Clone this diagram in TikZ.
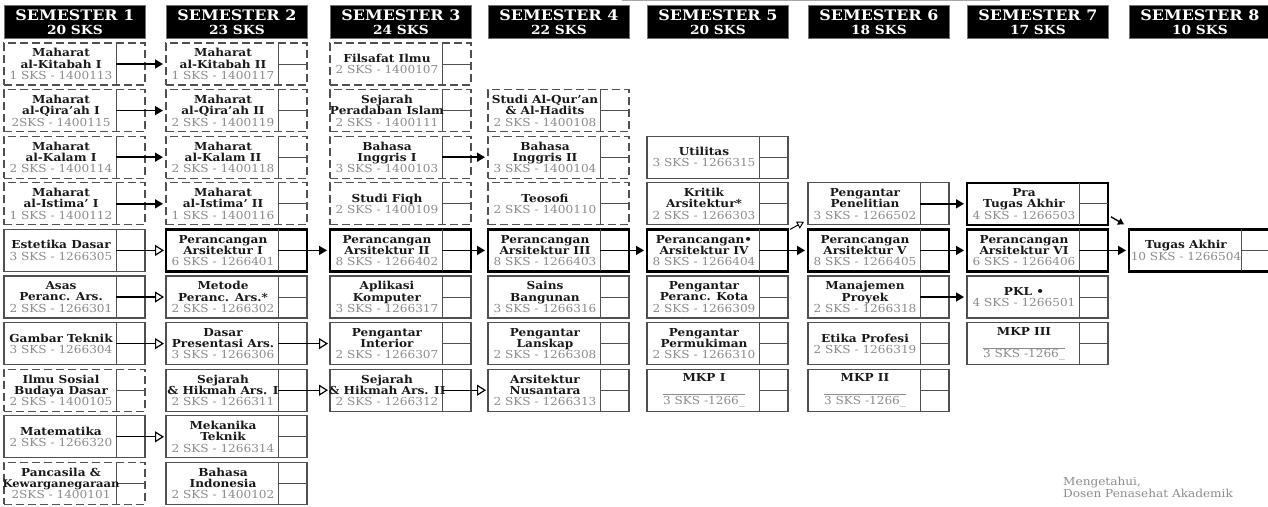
\documentclass[tikz,border=0pt]{standalone}
\usepackage{fontspec}
\setmainfont{DejaVu Serif}[FakeStretch=1.1]
\usetikzlibrary{arrows.meta,calc}
\definecolor{codegray}{HTML}{8C8C8C}
\definecolor{boxgray}{HTML}{505050}
\tikzset{
 crs/.style={rectangle,inner sep=0pt,outer sep=0pt,minimum width=141pt,minimum height=42pt,anchor=north west},
 crsn/.style={crs,draw=boxgray,line width=1.3pt},
 crst/.style={crs,draw=black,line width=2.4pt},
 crsd/.style={crs,draw=boxgray,line width=1.1pt,dash pattern=on 8pt off 4pt},
 ctext/.style={align=center,font=\fontsize{11}{11.3}\selectfont\bfseries,inner sep=0pt,text=black!90},
 divl/.style={draw=boxgray,line width=1pt},
 parr/.style={line width=1.5pt,-{Triangle[length=8pt,width=9pt]},shorten >=3pt},
 harr/.style={line width=1.2pt,-{Triangle[open,length=9pt,width=11pt,fill=white]},shorten >=2pt},
 hdr/.style={fill=black,draw=black!55,line width=0.8pt,minimum width=141pt,minimum height=33pt,anchor=north west,text=white,align=center,font=\fontsize{14.5}{14}\selectfont\bfseries,inner sep=0pt},
}
\newcommand\crs[6]{%
 \node[crs#4] (#1) at (#2,{43+46.6*#3}) {};
 \draw[divl] ($(#1.north west)+(112,0)$) -- ($(#1.south west)+(112,0)$);
 \draw[divl] ($(#1.west)+(112,0)$) -- (#1.east);
 \node[ctext] (#1t) at ($(#1.west)+(57,0)$) {#5\\{\mdseries\color{codegray}#6}};
}
\newcommand\lnk[3]{\draw[#1] ($(#2.west)+(112,0)$) -- (#3.west);}
\newcommand\mkpcode{$\overline{\hbox{3 SKS -1266\_}}$}
\begin{document}
\begin{tikzpicture}[x=1pt,y=-1pt]
\useasboundingbox[fill=white] (0,0) rectangle (1268,506);
\draw[black!35,line width=1pt] (622,0.6) -- (1000,0.6);
% headers
\node[hdr] (h1) at (4,5) {SEMESTER 1\\{\fontsize{12.5}{12.5}\selectfont 20 SKS}};
\node[hdr] (h2) at (166,5) {SEMESTER 2\\{\fontsize{12.5}{12.5}\selectfont 23 SKS}};
\node[hdr] (h3) at (330,5) {SEMESTER 3\\{\fontsize{12.5}{12.5}\selectfont 24 SKS}};
\node[hdr] (h4) at (488,5) {SEMESTER 4\\{\fontsize{12.5}{12.5}\selectfont 22 SKS}};
\node[hdr] (h5) at (647,5) {SEMESTER 5\\{\fontsize{12.5}{12.5}\selectfont 20 SKS}};
\node[hdr] (h6) at (808,5) {SEMESTER 6\\{\fontsize{12.5}{12.5}\selectfont 18 SKS}};
\node[hdr] (h7) at (967,5) {SEMESTER 7\\{\fontsize{12.5}{12.5}\selectfont 17 SKS}};
\node[hdr] (h8) at (1129,5) {SEMESTER 8\\{\fontsize{12.5}{12.5}\selectfont 10 SKS}};
% semester 1
\crs{a0}{4}{0}{d}{Maharat\\al-Kitabah I}{1 SKS - 1400113}
\crs{a1}{4}{1}{d}{Maharat\\al-Qira'ah I}{2SKS - 1400115}
\crs{a2}{4}{2}{d}{Maharat\\al-Kalam I}{2 SKS - 1400114}
\crs{a3}{4}{3}{d}{Maharat\\al-Istima' I}{1 SKS - 1400112}
\crs{a4}{4}{4}{n}{Estetika Dasar}{3 SKS - 1266305}
\crs{a5}{4}{5}{n}{Asas\\Peranc. Ars.}{2 SKS - 1266301}
\crs{a6}{4}{6}{n}{Gambar Teknik}{3 SKS - 1266304}
\crs{a7}{4}{7}{d}{Ilmu Sosial\\Budaya Dasar}{2 SKS - 1400105}
\crs{a8}{4}{8}{n}{Matematika}{2 SKS - 1266320}
\crs{a9}{4}{9}{d}{Pancasila \&\\{\fontsize{10.5}{11.3}\selectfont Kewarganegaraan}}{2SKS - 1400101}
% semester 2
\crs{b0}{166}{0}{d}{Maharat\\al-Kitabah II}{1 SKS - 1400117}
\crs{b1}{166}{1}{d}{Maharat\\al-Qira'ah II}{2 SKS - 1400119}
\crs{b2}{166}{2}{d}{Maharat\\al-Kalam II}{2 SKS - 1400118}
\crs{b3}{166}{3}{d}{Maharat\\al-Istima' II}{1 SKS - 1400116}
\crs{b4}{166}{4}{t}{Perancangan\\Arsitektur I}{6 SKS - 1266401}
\crs{b5}{166}{5}{n}{Metode\\Peranc. Ars.*}{2 SKS - 1266302}
\crs{b6}{166}{6}{n}{Dasar\\Presentasi Ars.}{3 SKS - 1266306}
\crs{b7}{166}{7}{n}{Sejarah\\\& Hikmah Ars. I}{2 SKS - 1266311}
\crs{b8}{166}{8}{n}{Mekanika\\Teknik}{2 SKS - 1266314}
\crs{b9}{166}{9}{n}{Bahasa\\Indonesia}{2 SKS - 1400102}
% semester 3
\crs{c0}{330}{0}{d}{Filsafat Ilmu}{2 SKS - 1400107}
\crs{c1}{330}{1}{d}{Sejarah\\Peradaban Islam}{2 SKS - 1400111}
\crs{c2}{330}{2}{d}{Bahasa\\Inggris I}{3 SKS - 1400103}
\crs{c3}{330}{3}{d}{Studi Fiqh}{2 SKS - 1400109}
\crs{c4}{330}{4}{t}{Perancangan\\Arsitektur II}{8 SKS - 1266402}
\crs{c5}{330}{5}{n}{Aplikasi\\Komputer}{3 SKS - 1266317}
\crs{c6}{330}{6}{n}{Pengantar\\Interior}{2 SKS - 1266307}
\crs{c7}{330}{7}{n}{Sejarah\\\& Hikmah Ars. II}{2 SKS - 1266312}
% semester 4
\crs{d1}{488}{1}{d}{Studi Al-Qur'an\\\& Al-Hadits}{2 SKS - 1400108}
\crs{d2}{488}{2}{d}{Bahasa\\Inggris II}{3 SKS - 1400104}
\crs{d3}{488}{3}{d}{Teosofi}{2 SKS - 1400110}
\crs{d4}{488}{4}{t}{Perancangan\\Arsitektur III}{8 SKS - 1266403}
\crs{d5}{488}{5}{n}{Sains\\Bangunan}{3 SKS - 1266316}
\crs{d6}{488}{6}{n}{Pengantar\\Lanskap}{2 SKS - 1266308}
\crs{d7}{488}{7}{n}{Arsitektur\\Nusantara}{2 SKS - 1266313}
% semester 5
\crs{e2}{647}{2}{n}{Utilitas}{3 SKS - 1266315}
\crs{e3}{647}{3}{n}{Kritik\\Arsitektur*}{2 SKS - 1266303}
\crs{e4}{647}{4}{t}{Perancangan•\\Arsitektur IV}{8 SKS - 1266404}
\crs{e5}{647}{5}{n}{Pengantar\\Peranc. Kota}{2 SKS - 1266309}
\crs{e6}{647}{6}{n}{Pengantar\\Permukiman}{2 SKS - 1266310}
\crs{e7}{647}{7}{n}{MKP I\\\mbox{}}{\mkpcode}
% semester 6
\crs{f3}{808}{3}{n}{Pengantar\\Penelitian}{3 SKS - 1266502}
\crs{f4}{808}{4}{t}{Perancangan\\Arsitektur V}{8 SKS - 1266405}
\crs{f5}{808}{5}{n}{Manajemen\\Proyek}{2 SKS - 1266318}
\crs{f6}{808}{6}{n}{Etika Profesi}{2 SKS - 1266319}
\crs{f7}{808}{7}{n}{MKP II\\\mbox{}}{\mkpcode}
% semester 7
\crs{g3}{967}{3}{t}{Pra\\Tugas Akhir}{4 SKS - 1266503}
\crs{g4}{967}{4}{t}{Perancangan\\Arsitektur VI}{6 SKS - 1266406}
\crs{g5}{967}{5}{n}{PKL •}{4 SKS - 1266501}
\crs{g6}{967}{6}{n}{MKP III\\\mbox{}}{\mkpcode}
% semester 8
\crs{h4}{1129}{4}{t}{Tugas Akhir}{10 SKS - 1266504}
% prerequisite arrows
\lnk{parr}{a0}{b0}
\lnk{parr}{a1}{b1}
\lnk{parr}{a2}{b2}
\lnk{parr}{a3}{b3}
\lnk{harr}{a4}{b4}
\lnk{harr}{a5}{b5}
\lnk{harr}{a6}{b6}
\lnk{harr}{a8}{b8}
\lnk{parr}{b4}{c4}
\lnk{harr}{b6}{c6}
\lnk{harr}{b7}{c7}
\lnk{parr}{c2}{d2}
\lnk{parr}{c4}{d4}
\lnk{harr}{c7}{d7}
\lnk{parr}{d4}{e4}
\lnk{parr}{e4}{f4}
\lnk{parr}{f3}{g3}
\lnk{parr}{f4}{g4}
\lnk{parr}{f5}{g5}
\lnk{parr}{g4}{h4}
\draw[line width=1.4pt,-{Triangle[length=6pt,width=7pt]}] ($(g3.south east)+(3,-8)$) -- ($(h4.north west)+(-5,-5)$);
\draw[line width=1pt,-{Triangle[open,length=7pt,width=8pt,fill=white]}] ($(e4.north east)+(2,0)$) -- ($(f3.south west)+(-4,-3)$);
% signature
\node[anchor=north west,align=left,font=\fontsize{11}{10.5}\selectfont,text=codegray,inner sep=0pt] (sig) at (1063,477) {Mengetahui,\\Dosen Penasehat Akademik};
\end{tikzpicture}
\end{document}
